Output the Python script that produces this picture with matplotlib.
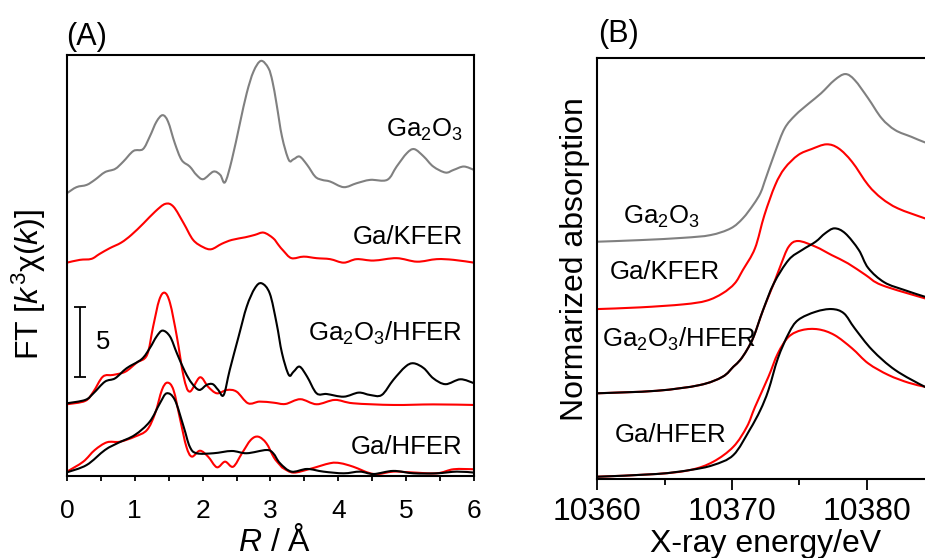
import numpy as np
import matplotlib
matplotlib.use('Agg')
import matplotlib.pyplot as plt
from matplotlib.ticker import MultipleLocator
from matplotlib.path import Path
from matplotlib.patches import PathPatch

plt.rcParams['font.family'] = ['Liberation Sans', 'DejaVu Sans']
plt.rcParams['mathtext.fontset'] = 'custom'
plt.rcParams['mathtext.rm'] = 'Liberation Sans'
plt.rcParams['mathtext.it'] = 'Liberation Sans:italic'

# (A) FT of k3-weighted EXAFS
r_ga2o3 = [0, 0.14, 0.29, 0.41, 0.56, 0.71, 0.83, 0.98, 1.12, 1.22, 1.32, 1.41, 1.49, 1.59, 1.69,
           1.81, 1.91, 2.01, 2.16, 2.26, 2.33, 2.43, 2.55, 2.65, 2.75, 2.86, 2.97, 3.03, 3.09, 3.17,
           3.27, 3.34, 3.43, 3.54, 3.66, 3.76, 3.88, 4.08, 4.27, 4.47, 4.72, 4.86, 5.01, 5.12, 5.26,
           5.40, 5.58, 5.70, 5.85, 6.0]
ft_ga2o3 = [0.15, 0.58, 0.74, 1.10, 1.65, 1.88, 2.40, 3.16, 3.29, 4.18, 5.25, 5.71, 5.25, 3.71, 2.52,
            2.05, 1.45, 1.15, 1.69, 1.45, 0.93, 2.52, 5.14, 7.28, 8.82, 9.58, 9.06, 8.1, 6.5, 4.18,
            2.52, 2.57, 2.76, 2.17, 1.33, 1.10, 0.98, 0.58, 0.86, 1.10, 1.10, 2.05, 3.00, 3.29, 2.76,
            2.05, 1.62, 1.81, 2.05, 1.81]

r_kfer = [0, 0.19, 0.36, 0.48, 0.63, 0.80, 0.95, 1.13, 1.30, 1.45, 1.57, 1.72, 1.86, 2.01, 2.13,
          2.28, 2.43, 2.63, 2.77, 2.90, 3.04, 3.12, 3.19, 3.31, 3.49, 3.68, 3.88, 4.08, 4.27, 4.52,
          4.86, 5.16, 5.45, 5.70, 6.0]
ft_kfer = [0.20, 0.40, 0.47, 0.82, 1.23, 1.63, 2.18, 3.01, 3.84, 4.39, 4.19, 3.01, 1.82, 1.30, 1.16,
           1.54, 1.82, 2.01, 2.18, 2.34, 1.94, 1.45, 1.05, 0.52, 0.63, 0.52, 0.45, 0.20, 0.45, 0.35,
           0.52, 0.27, 0.45, 0.40, 0.20]

r_ox_hfer_k = [0, 0.27, 0.39, 0.56, 0.71, 0.88, 1.10, 1.22, 1.32, 1.41, 1.52, 1.62, 1.74, 1.84, 1.95,
               2.06, 2.15, 2.23, 2.31, 2.40, 2.53, 2.65, 2.77, 2.87, 2.99, 3.09, 3.17, 3.27, 3.34, 3.43,
               3.54, 3.68, 3.83, 4.08, 4.30, 4.47, 4.64, 4.81, 4.99, 5.11, 5.26, 5.40, 5.58, 5.80, 6.0]
ft_ox_hfer_k = [0.18, 0.42, 0.89, 1.72, 1.96, 2.68, 3.32, 4.10, 4.93, 5.36, 4.93, 3.75, 2.43, 1.61, 1.13,
                1.49, 1.54, 1.13, 0.77, 2.56, 4.93, 7.07, 8.38, 8.73, 8.0, 5.88, 3.75, 2.20, 2.43, 2.79,
                2.08, 0.89, 0.84, 0.65, 0.94, 0.77, 0.77, 1.84, 2.79, 3.03, 2.68, 1.96, 1.54, 1.89, 1.61]

r_ox_hfer_r = [0, 0.27, 0.39, 0.53, 0.68, 0.86, 1.03, 1.18, 1.27, 1.36, 1.44, 1.52, 1.62, 1.72, 1.81,
               1.96, 2.08, 2.21, 2.36, 2.50, 2.67, 2.84, 3.05, 3.22, 3.44, 3.68, 3.95, 4.22, 4.81, 5.4, 6.0]
ft_ox_hfer_r = [0.11, 0.35, 1.01, 2.08, 2.20, 2.43, 3.08, 3.62, 5.64, 7.54, 8.06, 7.31, 4.93, 2.08, 1.01,
                2.03, 1.36, 0.89, 1.13, 1.01, 0.18, 0.30, 0.22, 0.13, 0.47, 0.11, 0.42, 0.18, 0.06, 0.10, 0.06]

r_hfer_k = [0, 0.29, 0.56, 0.76, 1.00, 1.22, 1.37, 1.47, 1.59, 1.72, 1.81, 1.91, 2.16, 2.43, 2.65,
            2.94, 3.04, 3.14, 3.31, 3.54, 3.78, 4.08, 4.32, 4.52, 4.81, 5.11, 5.45, 5.75, 6.0]
ft_hfer_k = [0.26, 0.78, 1.85, 2.37, 2.92, 3.87, 5.18, 5.89, 5.42, 3.51, 2.09, 1.62, 1.62, 1.78, 1.62,
             1.85, 1.62, 0.91, 0.31, 0.50, 0.31, 0.19, 0.31, 0.14, 0.36, 0.19, 0.19, 0.31, 0.24]

r_hfer_r = [0, 0.24, 0.41, 0.59, 0.78, 1.00, 1.18, 1.30, 1.40, 1.48, 1.57, 1.67, 1.76, 1.84, 1.96,
            2.08, 2.21, 2.33, 2.45, 2.58, 2.71, 2.82, 2.94, 3.05, 3.14, 3.19, 3.34, 3.58, 3.88, 4.03,
            4.22, 4.52, 4.81, 5.06, 5.45, 5.70, 6.0]
ft_hfer_r = [0.31, 1.02, 1.85, 2.40, 2.44, 2.80, 3.28, 4.47, 6.13, 6.65, 6.13, 3.99, 2.09, 1.38, 1.80,
             1.38, 0.62, 1.02, 0.66, 1.62, 2.57, 2.80, 2.33, 1.32, 0.78, 0.55, 0.24, 0.50, 0.91, 0.91,
             0.66, 0.14, 0.31, 0.26, 0.19, 0.48, 0.48]

# (B) Ga K-edge XANES
e_ga2o3 = [10360.0, 10363.2, 10366.4, 10368.4, 10369.9, 10370.8, 10371.6, 10372.1, 10372.4, 10373.2,
           10373.9, 10374.7, 10375.7, 10376.6, 10377.6, 10378.4, 10379.1, 10380.1, 10381.1, 10382.1,
           10383.3, 10384.3, 10385.0]
mu_ga2o3 = [0.027, 0.043, 0.066, 0.093, 0.160, 0.260, 0.40, 0.51, 0.62, 0.923,
            1.156, 1.288, 1.405, 1.505, 1.637, 1.697, 1.637, 1.455, 1.256, 1.139,
            1.072, 1.017, 0.99]

e_kfer = [10360.0, 10363.2, 10366.4, 10368.1, 10369.3, 10370.2, 10370.8, 10371.7, 10372.4, 10373.2,
          10373.9, 10374.9, 10375.9, 10377.0, 10377.9, 10378.9, 10380.1, 10381.1, 10382.3, 10384.3, 10385.0]
mu_kfer = [0.026, 0.043, 0.073, 0.109, 0.183, 0.282, 0.415, 0.631, 0.962, 1.261,
           1.428, 1.560, 1.620, 1.667, 1.627, 1.493, 1.261, 1.129, 1.029, 0.930, 0.90]

e_ox_hfer_k = [10360.0, 10364.4, 10367.6, 10369.3, 10370.1, 10370.6, 10371.1, 10371.6, 10372.3, 10373.1,
               10374.2, 10375.2, 10376.2, 10376.9, 10377.6, 10378.4, 10379.4, 10380.1, 10381.3, 10382.8,
               10384.3, 10385.0]
mu_ox_hfer_k = [0.027, 0.052, 0.109, 0.192, 0.292, 0.358, 0.458, 0.590, 0.856, 1.122,
                1.356, 1.455, 1.537, 1.620, 1.670, 1.620, 1.455, 1.275, 1.132, 1.055,
                0.989, 0.96]

e_ox_hfer_r = [10360.0, 10364.4, 10367.6, 10369.3, 10370.1, 10370.6, 10371.1, 10371.6, 10372.3, 10373.1,
               10373.6, 10374.2, 10374.9, 10376.2, 10377.4, 10378.6, 10379.9, 10381.1, 10384.3, 10385.0]
mu_ox_hfer_r = [0.027, 0.052, 0.109, 0.192, 0.292, 0.358, 0.458, 0.590, 0.856, 1.122,
                1.30, 1.487, 1.544, 1.487, 1.403, 1.321, 1.206, 1.105, 0.973, 0.95]

e_hfer_k = [10360.0, 10364.4, 10366.9, 10368.6, 10370.1, 10371.3, 10372.1, 10372.7, 10373.4, 10374.2,
            10374.9, 10376.2, 10377.4, 10378.3, 10379.1, 10380.4, 10382.1, 10384.3, 10385.0]
mu_hfer_k = [0.026, 0.053, 0.093, 0.142, 0.242, 0.491, 0.690, 0.889, 1.205, 1.454,
             1.587, 1.669, 1.696, 1.653, 1.504, 1.288, 1.089, 0.922, 0.89]

e_hfer_r = [10360.0, 10364.4, 10366.9, 10368.6, 10370.1, 10371.1, 10371.7, 10372.7, 10373.4, 10374.2,
            10375.2, 10376.4, 10377.6, 10378.9, 10380.1, 10381.6, 10383.1, 10384.3, 10385.0]
mu_hfer_r = [0.026, 0.053, 0.093, 0.175, 0.325, 0.524, 0.72, 1.022, 1.255, 1.420,
             1.487, 1.494, 1.437, 1.305, 1.155, 1.039, 0.962, 0.922, 0.90]

# vertical offsets of the stacked curves
off_a = {'Ga2O3': 20, 'Ga/KFER': 15, 'Ga2O3/HFER': 5, 'Ga/HFER': 0}
off_b = {'Ga2O3': 2.34, 'Ga/KFER': 1.67, 'Ga2O3/HFER': 0.83, 'Ga/HFER': 0}

gray = '#808080'
red = '#ff0000'
lw = 1.5
fs_lab = 23
fs_txt = 18.5


def smooth_line(ax, x, y, color):
    # draw the points as one bezier path (catmull-rom tangents), so the curve looks smooth
    x = np.asarray(x, float)
    y = np.asarray(y, float)
    pts = np.column_stack([x, y])
    verts = [pts[0]]
    codes = [Path.MOVETO]
    n = len(pts)
    for i in range(n - 1):
        p0 = pts[max(i - 1, 0)]
        p1 = pts[i]
        p2 = pts[i + 1]
        p3 = pts[min(i + 2, n - 1)]
        verts += [p1 + (p2 - p0) / 6, p2 - (p3 - p1) / 6, p2]
        codes += [Path.CURVE4] * 3
    ax.add_patch(PathPatch(Path(verts, codes), fill=False, edgecolor=color, lw=lw,
                           capstyle='round', joinstyle='round'))


fig = plt.figure(figsize=(9.25, 5.58), dpi=100)
axA = fig.add_axes([0.0724, 0.147, 0.440, 0.7545])
axB = fig.add_axes([0.6457, 0.141, 0.3643, 0.7556])

# ---- panel A
smooth_line(axA, r_ga2o3, np.array(ft_ga2o3) + off_a['Ga2O3'], gray)
smooth_line(axA, r_kfer, np.array(ft_kfer) + off_a['Ga/KFER'], red)
smooth_line(axA, r_ox_hfer_r, np.array(ft_ox_hfer_r) + off_a['Ga2O3/HFER'], red)
smooth_line(axA, r_ox_hfer_k, np.array(ft_ox_hfer_k) + off_a['Ga2O3/HFER'], 'black')
smooth_line(axA, r_hfer_r, np.array(ft_hfer_r) + off_a['Ga/HFER'], red)
smooth_line(axA, r_hfer_k, np.array(ft_hfer_k) + off_a['Ga/HFER'], 'black')

axA.set_xlim(0, 6)
axA.set_ylim(0, 30)
axA.xaxis.set_major_locator(MultipleLocator(1))
axA.xaxis.set_minor_locator(MultipleLocator(0.5))
axA.tick_params(axis='x', which='both', direction='out', length=3.5, width=1.3,
                labelsize=19, pad=13)
axA.set_yticks([])
for s in axA.spines.values():
    s.set_linewidth(1.5)

# scale bar (5 units)
axA.errorbar(0.19, 9.56, yerr=2.5, color='black', lw=1.3, capsize=4, capthick=1.3)
axA.text(0.42, 9.56, '5', fontsize=fs_txt, va='center', ha='left')

axA.text(5.83, 24.66, 'Ga$_2$O$_3$', fontsize=fs_txt, ha='right', va='center')
axA.text(5.83, 17.03, 'Ga/KFER', fontsize=fs_txt, ha='right', va='center')
axA.text(5.83, 10.19, 'Ga$_2$O$_3$/HFER', fontsize=fs_txt, ha='right', va='center')
axA.text(5.83, 2.07, 'Ga/HFER', fontsize=fs_txt, ha='right', va='center')

axA.set_xlabel('$\\mathit{R}$ / Å', fontsize=fs_lab)
axA.xaxis.set_label_coords(0.51, -0.12)
axA.set_ylabel('FT [$\\mathit{k}^3$χ($\\mathit{k}$)]', fontsize=fs_lab)
axA.yaxis.set_label_coords(-0.047, 0.456)

# ---- panel B
smooth_line(axB, e_ga2o3, np.array(mu_ga2o3) + off_b['Ga2O3'], gray)
smooth_line(axB, e_kfer, np.array(mu_kfer) + off_b['Ga/KFER'], red)
smooth_line(axB, e_ox_hfer_r, np.array(mu_ox_hfer_r) + off_b['Ga2O3/HFER'], red)
smooth_line(axB, e_ox_hfer_k, np.array(mu_ox_hfer_k) + off_b['Ga2O3/HFER'], 'black')
smooth_line(axB, e_hfer_r, np.array(mu_hfer_r) + off_b['Ga/HFER'], red)
smooth_line(axB, e_hfer_k, np.array(mu_hfer_k) + off_b['Ga/HFER'], 'black')

axB.set_xlim(10360, 10385)
axB.set_ylim(0, 4.2)
axB.xaxis.set_major_locator(MultipleLocator(10))
axB.xaxis.set_minor_locator(MultipleLocator(5))
axB.tick_params(axis='x', which='major', direction='out', length=8, width=1.3,
                labelsize=fs_lab, pad=5)
axB.tick_params(axis='x', which='minor', direction='out', length=4.5, width=1.3)
axB.set_yticks([])
for s in axB.spines.values():
    s.set_linewidth(1.5)

axB.text(10361.9, 2.61, 'Ga$_2$O$_3$', fontsize=fs_txt, ha='left', va='center')
axB.text(10360.94, 2.065, 'Ga/KFER', fontsize=fs_txt, ha='left', va='center')
axB.text(10360.35, 1.39, 'Ga$_2$O$_3$/HFER', fontsize=fs_txt, ha='left', va='center')
axB.text(10361.3, 0.44, 'Ga/HFER', fontsize=fs_txt, ha='left', va='center')

axB.set_xlabel('X-ray energy/eV', fontsize=fs_lab)
axB.xaxis.set_label_coords(0.5, -0.117)
axB.set_ylabel('Normarized absorption', fontsize=fs_lab)
axB.yaxis.set_label_coords(-0.022, 0.5225)

fig.text(66 / 925, 1 - 37 / 558, '(A)', fontsize=22, ha='left', va='center')
fig.text(598 / 925, 1 - 34 / 558, '(B)', fontsize=22, ha='left', va='center')

fig.savefig('out.png', dpi=100)
